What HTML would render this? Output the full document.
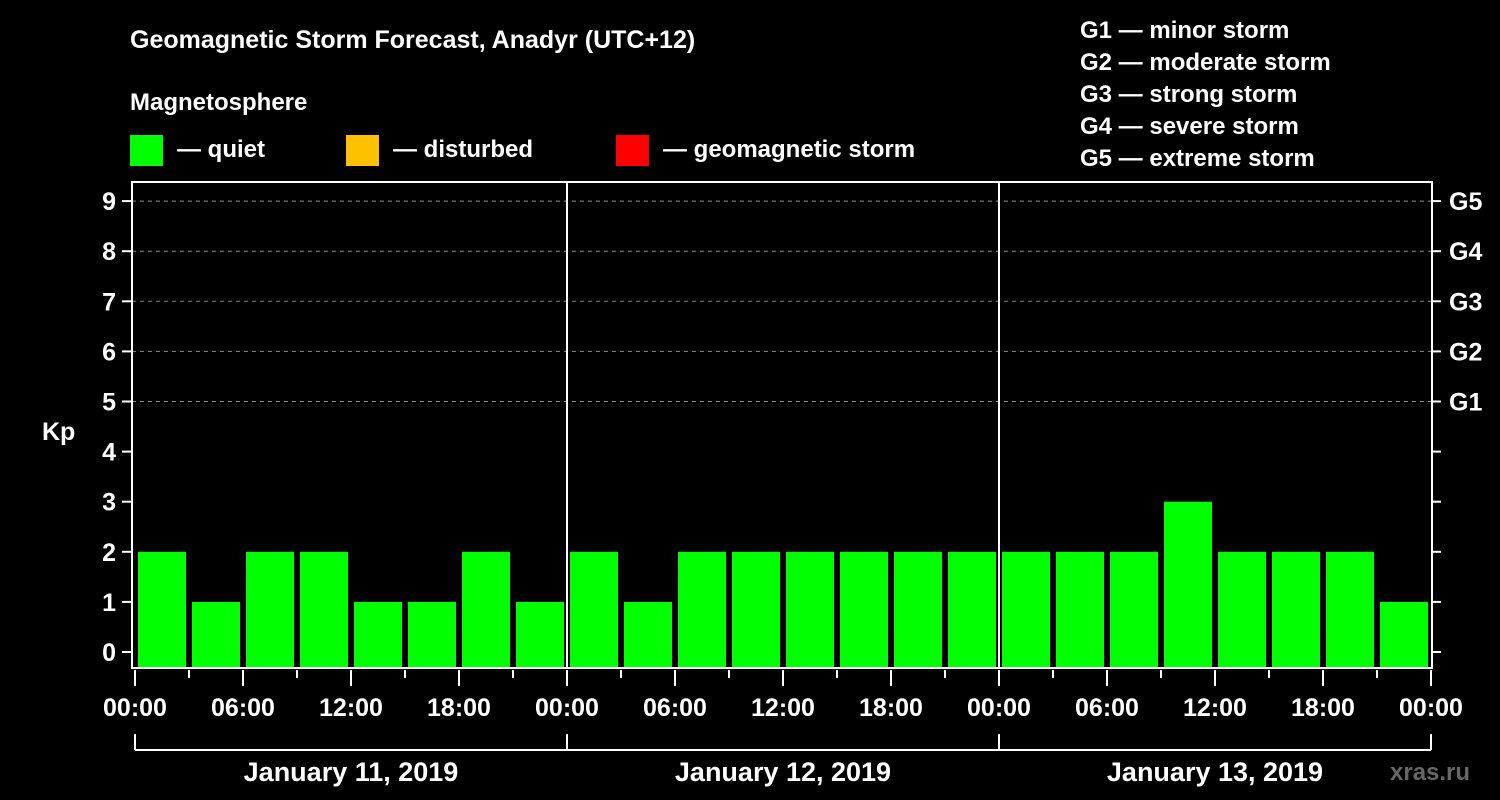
<!DOCTYPE html>
<html><head><meta charset="utf-8"><style>
html,body{margin:0;padding:0;background:#000;}
svg{display:block;font-family:"Liberation Sans",Arial,sans-serif;font-weight:bold;}
</style></head><body>
<svg id="c" width="1500" height="800" viewBox="0 0 1500 800">
<rect width="1500" height="800" fill="#000"/>
<text x="130" y="48" fill="#fff" font-size="25">Geomagnetic Storm Forecast, Anadyr (UTC+12)</text>
<text x="130" y="110" fill="#fff" font-size="24">Magnetosphere</text>
<g><rect x="130" y="135" width="33" height="31" fill="#00ff00"/><text x="177" y="157" fill="#fff" font-size="24">— quiet</text></g>
<g><rect x="346" y="135" width="33" height="31" fill="#ffc000"/><text x="393" y="157" fill="#fff" font-size="24">— disturbed</text></g>
<g><rect x="616" y="135" width="33" height="31" fill="#ff0000"/><text x="663" y="157" fill="#fff" font-size="24">— geomagnetic storm</text></g>
<g fill="#fff" font-size="24">
<text x="1080" y="38">G1 — minor storm</text>
<text x="1080" y="70">G2 — moderate storm</text>
<text x="1080" y="102">G3 — strong storm</text>
<text x="1080" y="134">G4 — severe storm</text>
<text x="1080" y="166">G5 — extreme storm</text>
</g>
<text x="42" y="440" fill="#fff" font-size="25">Kp</text>
<text x="1390" y="780" fill="#666" font-size="24">xras.ru</text>
<g id="plot"></g>
</svg>
<script>
const days = ["January 11, 2019","January 12, 2019","January 13, 2019"];
const kp = [2,1,2,2,1,1,2,1, 2,1,2,2,2,2,2,2, 2,2,2,3,2,2,2,1];
const yTicks = [0,1,2,3,4,5,6,7,8,9];
const gLabels = ["G1","G2","G3","G4","G5"];
const xLabels = ["00:00","06:00","12:00","18:00"];
const NS="http://www.w3.org/2000/svg";
const g=document.getElementById('plot');
const X0=135, DAY=432, Y0=652, U=50.1, L=132, R=1432, T=182, B=668;
const xs=h=>X0+h/24*DAY, ys=v=>Y0-v*U;
function mk(t,a){const e=document.createElementNS(NS,t);for(const k in a)e.setAttribute(k,a[k]);g.appendChild(e);return e;}
// gridlines 5..9
yTicks.forEach(v=>{ if(v>=5){const e=mk('line',{x1:L,x2:R,y1:ys(v),y2:ys(v),stroke:'#888','stroke-dasharray':'4,4','stroke-width':1});

}});
// bars
kp.forEach((v,i)=>{const x=xs(i*3)+3;const e=mk('rect',{x:x,y:ys(v),width:DAY/8-6,height:B-ys(v),fill:v>=5?'#ff0000':(v>=4?'#ffc000':'#00ff00')});

});
// day separators
for(let d=1;d<days.length;d++){const e=mk('line',{x1:xs(d*24),x2:xs(d*24),y1:T,y2:B,stroke:'#fff','stroke-width':2});

}
// frame
const f=mk('rect',{x:L,y:T,width:R-L,height:B-T,fill:'none',stroke:'#fff','stroke-width':2});


// y ticks
yTicks.forEach(v=>{mk('line',{x1:122,x2:L,y1:ys(v),y2:ys(v),stroke:'#fff','stroke-width':2});
mk('line',{x1:R,x2:1441,y1:ys(v),y2:ys(v),stroke:'#fff','stroke-width':2});
const t=mk('text',{x:116,y:ys(v)+9,fill:'#fff','font-size':25,'text-anchor':'end'});t.textContent=v;

});
gLabels.forEach((s,i)=>{const t=mk('text',{x:1449,y:ys(5+i)+9,fill:'#fff','font-size':25});t.textContent=s;

});
// x ticks
for(let h=0;h<=72;h+=3){const major=h%6===0;mk('line',{x1:xs(h),x2:xs(h),y1:B+2,y2:major?686:678,stroke:'#fff','stroke-width':2});}
for(let h=0;h<=72;h+=6){const t=mk('text',{x:xs(h),y:716,fill:'#fff','font-size':25,'text-anchor':'middle'});t.textContent=xLabels[(h/6)%4];

}
// day bracket
mk('line',{x1:xs(0),x2:xs(72),y1:750,y2:750,stroke:'#fff','stroke-width':2});
for(let d=0;d<=days.length;d++)mk('line',{x1:xs(d*24),x2:xs(d*24),y1:734,y2:750,stroke:'#fff','stroke-width':2});
days.forEach((s,d)=>{const t=mk('text',{x:xs(d*24+12),y:781,fill:'#fff','font-size':27,'text-anchor':'middle'});t.textContent=s;

});
</script>
</body></html>
